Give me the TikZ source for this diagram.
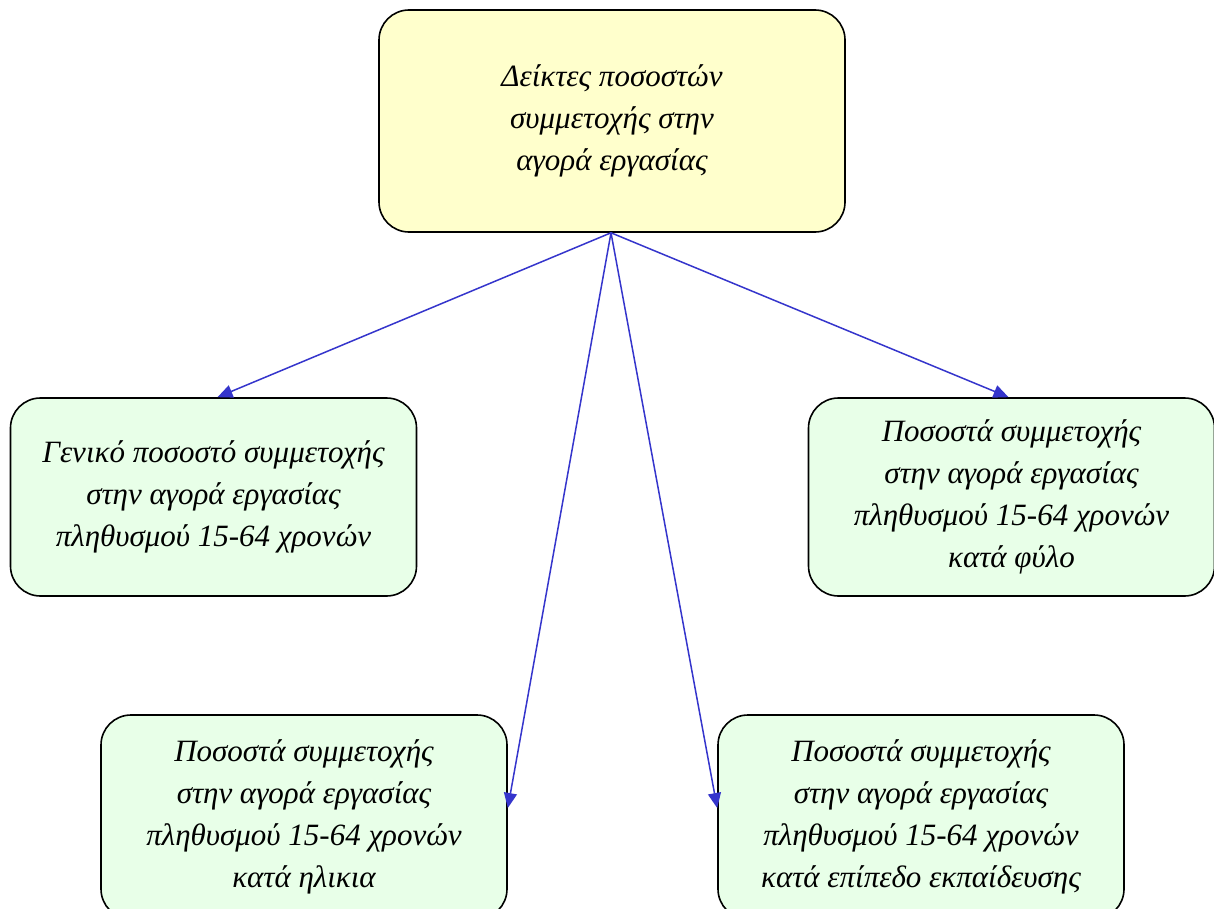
\documentclass[tikz,border=0pt]{standalone}
\usepackage{fontspec}
\setmainfont{Liberation Serif}
\usetikzlibrary{arrows.meta}
\definecolor{topfill}{HTML}{FFFFCC}
\definecolor{boxfill}{HTML}{E8FFE8}
\definecolor{arrowblue}{HTML}{3535CC}
\tikzset{
  box/.style={draw=black, line width=1.6pt, rounded corners=30pt, rectangle,
    align=center, inner sep=0pt,
    font=\fontsize{31}{42}\selectfont\itshape},
  topbox/.style={box, fill=topfill, minimum width=466pt, minimum height=222pt},
  leafbox/.style={box, fill=boxfill, minimum width=406pt, minimum height=198pt},
  lowbox/.style={box, fill=boxfill, minimum width=406pt, minimum height=204pt},
  conn/.style={draw=arrowblue, line width=1.5pt, -{Triangle[length=15pt,width=13pt]}}
}
\begin{document}
\begin{tikzpicture}[x=1pt,y=-1pt]
\useasboundingbox (0,0) rectangle (1214,909);
\fill[white] (0,0) rectangle (1214,909);
\clip (0,0) rectangle (1214,909);
\node[topbox] (top) at (612,121) {Δείκτες ποσοστών\\ συμμετοχής στην\\ αγορά εργασίας};
\node[leafbox] (l) at (213.5,497) {Γενικό ποσοστό  συμμετοχής\\ στην αγορά εργασίας\\ πληθυσμού 15-64 χρονών};
\node[leafbox] (r) at (1011.5,497) {Ποσοστά συμμετοχής\\ στην αγορά εργασίας\\ πληθυσμού 15-64 χρονών\\ κατά φύλο};
\node[lowbox] (bl) at (304,817) {Ποσοστά συμμετοχής\\ στην αγορά εργασίας\\ πληθυσμού 15-64 χρονών\\ κατά ηλικια};
\node[lowbox] (br) at (921,817) {Ποσοστά συμμετοχής\\ στην αγορά εργασίας\\ πληθυσμού 15-64 χρονών\\ κατά επίπεδο  εκπαίδευσης};
\coordinate (s) at ([xshift=-1pt]top.south);
\coordinate (lt) at ([xshift=4pt]l.north);
\coordinate (rt) at ([xshift=-3pt]r.north);
\coordinate (blt) at ([yshift=9pt]bl.east);
\coordinate (brt) at ([yshift=9pt]br.west);
\draw[conn] (s) -- (lt);
\draw[conn] (s) -- (rt);
\draw[conn] (s) -- (blt);
\draw[conn] (s) -- (brt);
\end{tikzpicture}
\end{document}
